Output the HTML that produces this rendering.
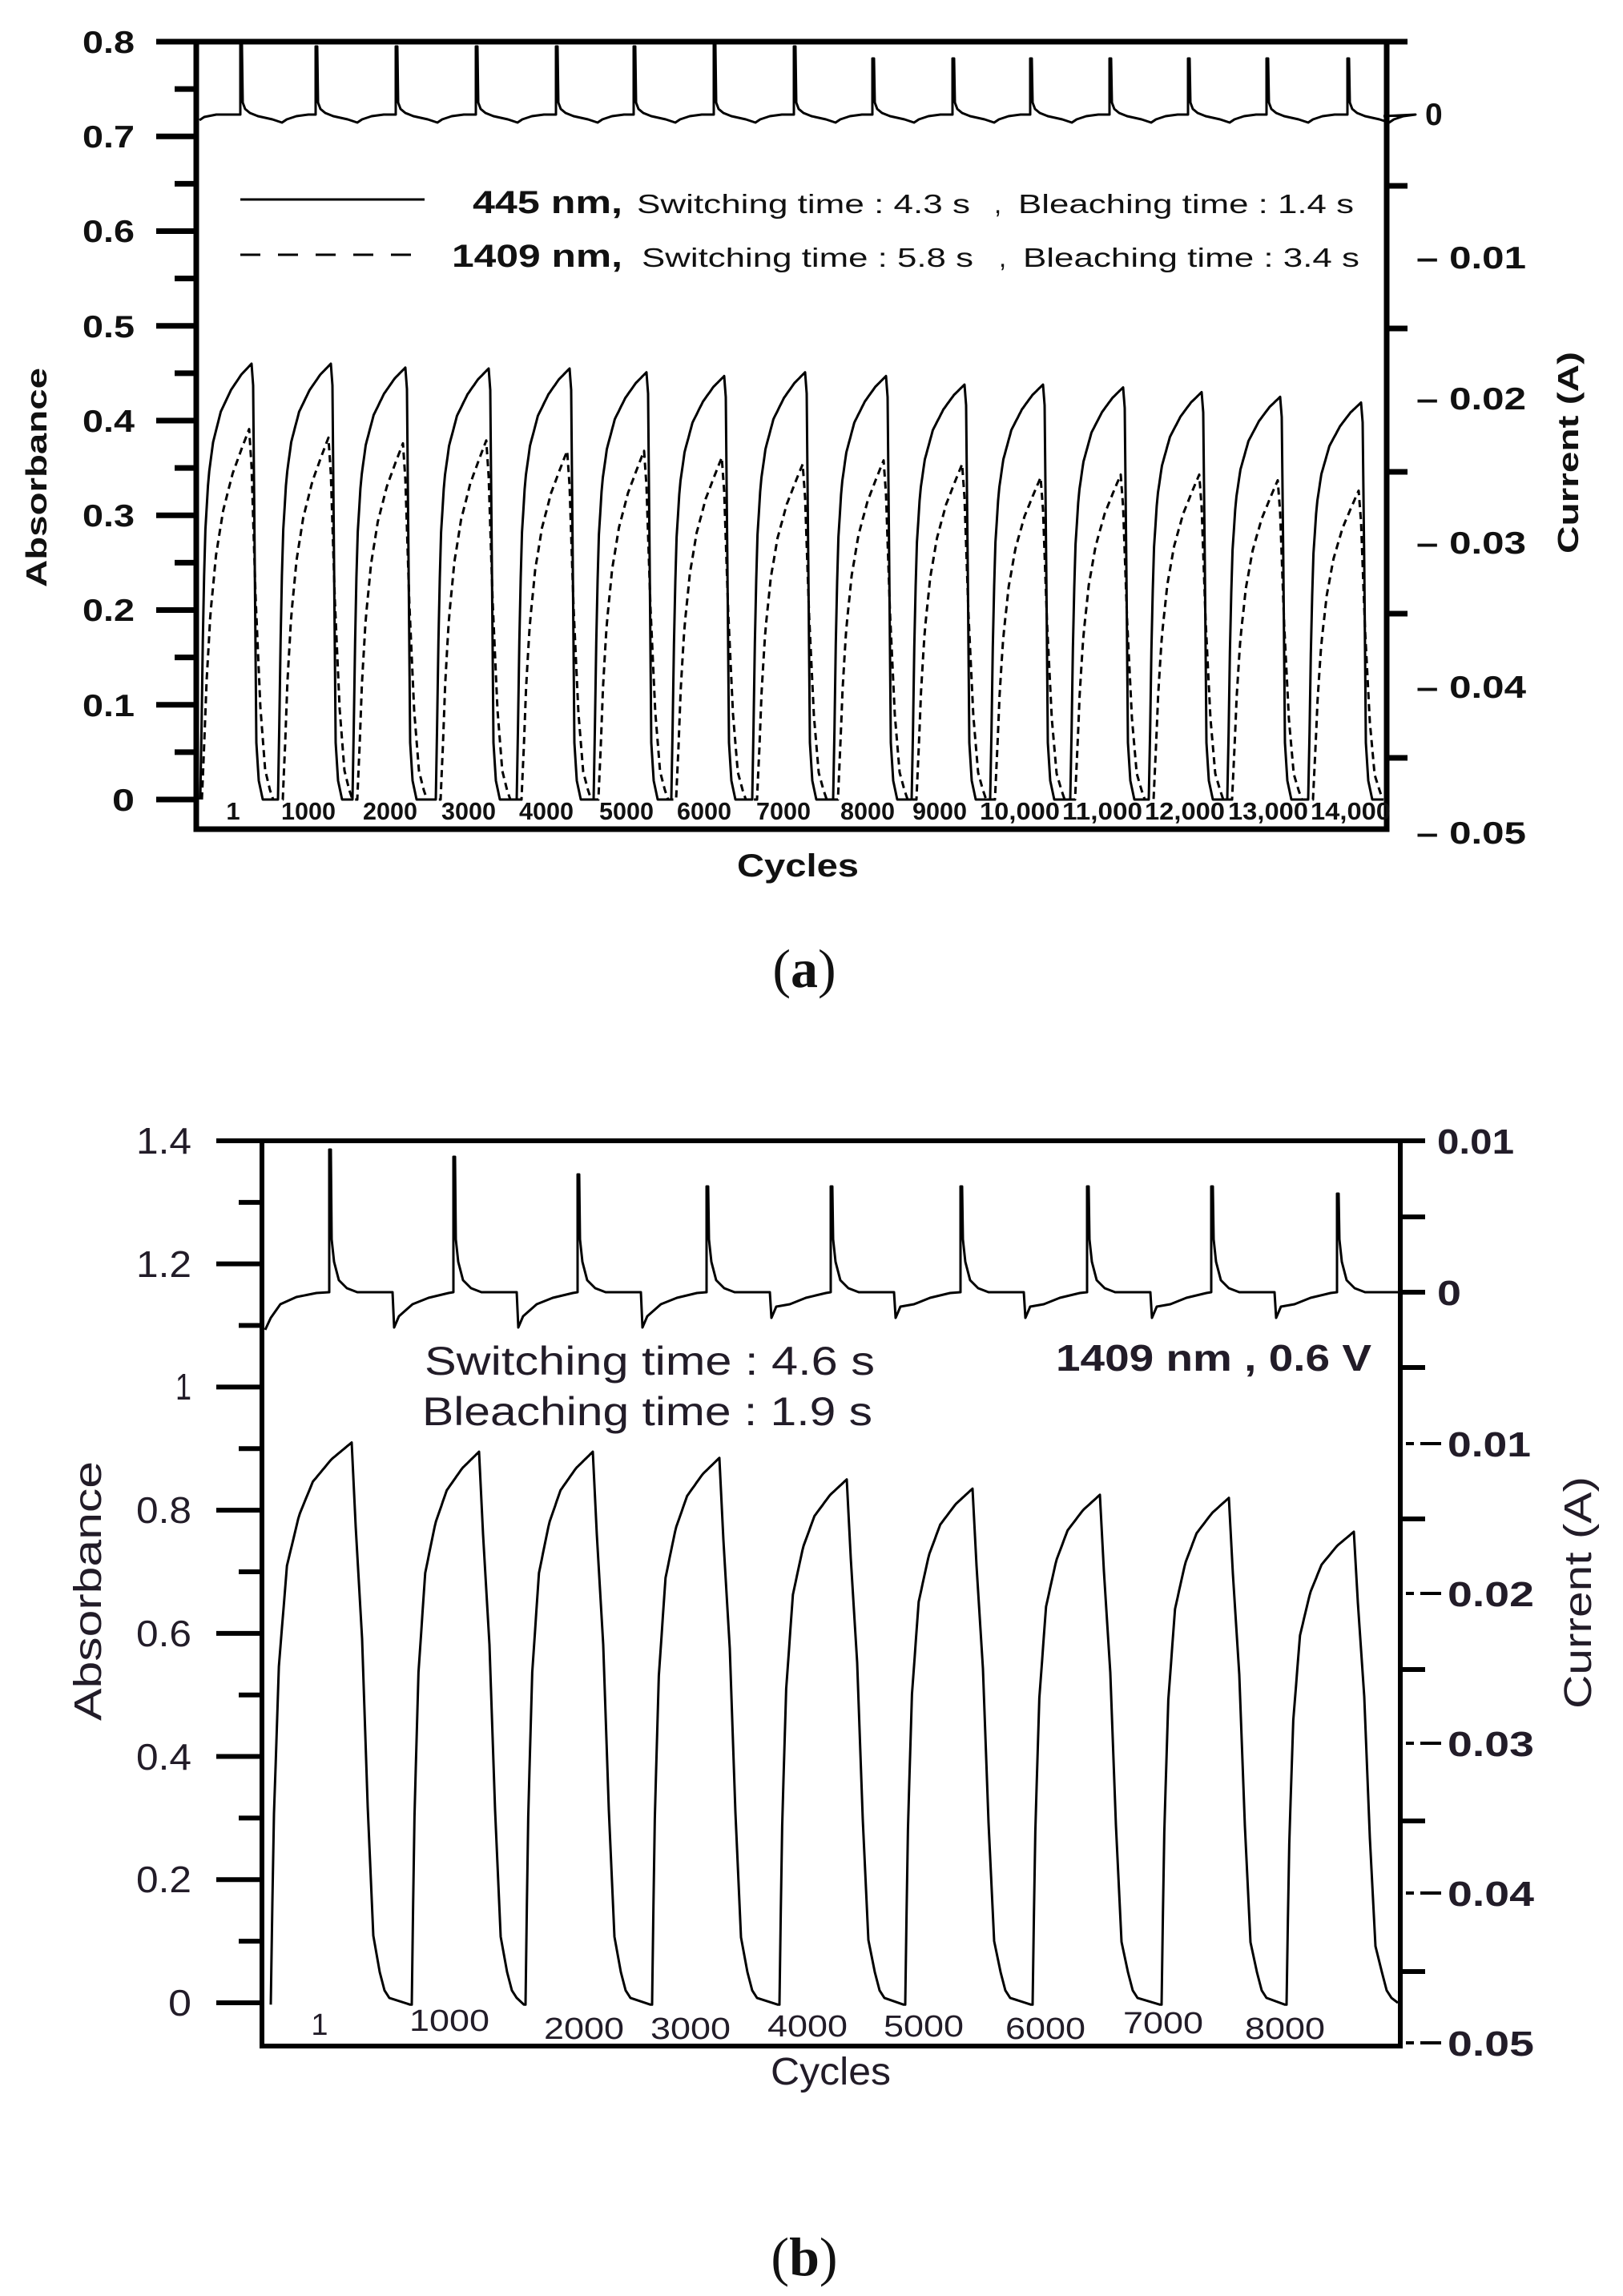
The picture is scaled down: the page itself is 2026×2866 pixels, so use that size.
<!DOCTYPE html>
<html><head><meta charset="utf-8"><style>html,body{margin:0;padding:0;background:#fff}svg{display:block}</style></head>
<body>
<svg id="s" width="2026" height="2866" viewBox="0 0 2026 2866" xmlns="http://www.w3.org/2000/svg" font-family="'Liberation Sans', sans-serif">
<g id="g"></g>
<!-- Plot (a) texts -->
<g font-weight="bold" font-size="39" fill="#111" text-anchor="end">
<text x="168" y="66" textLength="65" lengthAdjust="spacingAndGlyphs">0.8</text>
<text x="168" y="184" textLength="65" lengthAdjust="spacingAndGlyphs">0.7</text>
<text x="168" y="302" textLength="65" lengthAdjust="spacingAndGlyphs">0.6</text>
<text x="168" y="421" textLength="65" lengthAdjust="spacingAndGlyphs">0.5</text>
<text x="168" y="539" textLength="65" lengthAdjust="spacingAndGlyphs">0.4</text>
<text x="168" y="657" textLength="65" lengthAdjust="spacingAndGlyphs">0.3</text>
<text x="168" y="775" textLength="65" lengthAdjust="spacingAndGlyphs">0.2</text>
<text x="168" y="894" textLength="65" lengthAdjust="spacingAndGlyphs">0.1</text>
<text x="168" y="1012" textLength="28" lengthAdjust="spacingAndGlyphs">0</text>
</g>
<g font-weight="bold" font-size="39" fill="#111">
<text x="1779" y="156">0</text>
<text x="1768" y="335" textLength="137" lengthAdjust="spacingAndGlyphs">– 0.01</text>
<text x="1768" y="511" textLength="137" lengthAdjust="spacingAndGlyphs">– 0.02</text>
<text x="1768" y="691" textLength="137" lengthAdjust="spacingAndGlyphs">– 0.03</text>
<text x="1768" y="871" textLength="137" lengthAdjust="spacingAndGlyphs">– 0.04</text>
<text x="1768" y="1053" textLength="137" lengthAdjust="spacingAndGlyphs">– 0.05</text>
</g>
<text font-weight="bold" font-size="36" fill="#111" text-anchor="middle" transform="translate(58,596) rotate(-90)" textLength="274" lengthAdjust="spacingAndGlyphs">Absorbance</text>
<text font-weight="bold" font-size="36" fill="#111" text-anchor="middle" transform="translate(1970,565) rotate(-90)" textLength="252" lengthAdjust="spacingAndGlyphs">Current (A)</text>
<text font-weight="bold" font-size="40" fill="#111" text-anchor="middle" x="996" y="1094" textLength="152" lengthAdjust="spacingAndGlyphs">Cycles</text>
<g font-size="31" fill="#111" font-weight="bold" text-anchor="middle">
<text x="291" y="1023">1</text>
<text x="385" y="1023" textLength="68" lengthAdjust="spacingAndGlyphs">1000</text>
<text x="487" y="1023" textLength="68" lengthAdjust="spacingAndGlyphs">2000</text>
<text x="585" y="1023" textLength="68" lengthAdjust="spacingAndGlyphs">3000</text>
<text x="682" y="1023" textLength="68" lengthAdjust="spacingAndGlyphs">4000</text>
<text x="782" y="1023" textLength="68" lengthAdjust="spacingAndGlyphs">5000</text>
<text x="879" y="1023" textLength="68" lengthAdjust="spacingAndGlyphs">6000</text>
<text x="978" y="1023" textLength="68" lengthAdjust="spacingAndGlyphs">7000</text>
<text x="1083" y="1023" textLength="68" lengthAdjust="spacingAndGlyphs">8000</text>
<text x="1173" y="1023" textLength="68" lengthAdjust="spacingAndGlyphs">9000</text>
<text x="1273" y="1023" textLength="100" lengthAdjust="spacingAndGlyphs">10,000</text>
<text x="1376" y="1023" textLength="100" lengthAdjust="spacingAndGlyphs">11,000</text>
<text x="1479" y="1023" textLength="100" lengthAdjust="spacingAndGlyphs">12,000</text>
<text x="1583" y="1023" textLength="100" lengthAdjust="spacingAndGlyphs">13,000</text>
<text x="1686" y="1023" textLength="100" lengthAdjust="spacingAndGlyphs">14,000</text>
</g>
<g fill="#111">
<text x="590" y="266" font-size="40" font-weight="bold" textLength="187" lengthAdjust="spacingAndGlyphs">445 nm,</text>
<text x="795" y="266" font-size="33" textLength="416" lengthAdjust="spacingAndGlyphs">Switching time : 4.3 s</text>
<text x="1241" y="266" font-size="33">,</text>
<text x="1271" y="266" font-size="33" textLength="419" lengthAdjust="spacingAndGlyphs">Bleaching time : 1.4 s</text>
<text x="564" y="333" font-size="40" font-weight="bold" textLength="213" lengthAdjust="spacingAndGlyphs">1409 nm,</text>
<text x="801" y="333" font-size="33" textLength="414" lengthAdjust="spacingAndGlyphs">Switching time : 5.8 s</text>
<text x="1247" y="333" font-size="33">,</text>
<text x="1277" y="333" font-size="33" textLength="420" lengthAdjust="spacingAndGlyphs">Bleaching time : 3.4 s</text>
</g>
<text x="1004" y="1232" font-family="'Liberation Serif', serif" font-size="68" text-anchor="middle" fill="#111">(<tspan font-weight="bold">a</tspan>)</text>

<!-- Plot (b) texts -->
<g font-size="46" fill="#221c28" text-anchor="end">
<text x="239" y="1440" textLength="69" lengthAdjust="spacingAndGlyphs">1.4</text>
<text x="239" y="1594" textLength="69" lengthAdjust="spacingAndGlyphs">1.2</text>
<text x="239" y="1747" textLength="20" lengthAdjust="spacingAndGlyphs">1</text>
<text x="239" y="1901" textLength="69" lengthAdjust="spacingAndGlyphs">0.8</text>
<text x="239" y="2055" textLength="69" lengthAdjust="spacingAndGlyphs">0.6</text>
<text x="239" y="2209" textLength="69" lengthAdjust="spacingAndGlyphs">0.4</text>
<text x="239" y="2362" textLength="69" lengthAdjust="spacingAndGlyphs">0.2</text>
<text x="239" y="2516" textLength="29" lengthAdjust="spacingAndGlyphs">0</text>
</g>
<g font-size="44" fill="#221c28" font-weight="bold">
<text x="1794" y="1440" textLength="96" lengthAdjust="spacingAndGlyphs">0.01</text>
<text x="1794" y="1629" textLength="30" lengthAdjust="spacingAndGlyphs">0</text>
<text x="1807" y="1818" textLength="104" lengthAdjust="spacingAndGlyphs">0.01</text>
<text x="1807" y="2005" textLength="108" lengthAdjust="spacingAndGlyphs">0.02</text>
<text x="1807" y="2192" textLength="108" lengthAdjust="spacingAndGlyphs">0.03</text>
<text x="1807" y="2379" textLength="108" lengthAdjust="spacingAndGlyphs">0.04</text>
<text x="1807" y="2566" textLength="108" lengthAdjust="spacingAndGlyphs">0.05</text>
</g>
<text font-size="48" fill="#221c28" text-anchor="middle" transform="translate(1986,1988) rotate(-90)" textLength="290" lengthAdjust="spacingAndGlyphs">Current (A)</text>
<text font-size="48" fill="#221c28" text-anchor="middle" transform="translate(126,1986) rotate(-90)" textLength="324" lengthAdjust="spacingAndGlyphs">Absorbance</text>
<text font-size="48" fill="#221c28" text-anchor="middle" x="1037" y="2602" textLength="150" lengthAdjust="spacingAndGlyphs">Cycles</text>
<g font-size="38" fill="#221c28" text-anchor="middle">
<text x="399" y="2540">1</text>
<text x="561" y="2535" textLength="100" lengthAdjust="spacingAndGlyphs">1000</text>
<text x="729" y="2545" textLength="100" lengthAdjust="spacingAndGlyphs">2000</text>
<text x="862" y="2545" textLength="100" lengthAdjust="spacingAndGlyphs">3000</text>
<text x="1008" y="2542" textLength="100" lengthAdjust="spacingAndGlyphs">4000</text>
<text x="1153" y="2542" textLength="100" lengthAdjust="spacingAndGlyphs">5000</text>
<text x="1305" y="2545" textLength="100" lengthAdjust="spacingAndGlyphs">6000</text>
<text x="1452" y="2538" textLength="100" lengthAdjust="spacingAndGlyphs">7000</text>
<text x="1604" y="2545" textLength="100" lengthAdjust="spacingAndGlyphs">8000</text>
</g>
<g fill="#221c28" font-size="50">
<text x="530" y="1716" textLength="562" lengthAdjust="spacingAndGlyphs">Switching time : 4.6 s</text>
<text x="527" y="1779" textLength="562" lengthAdjust="spacingAndGlyphs">Bleaching time : 1.9 s</text>
<text x="1318" y="1711" font-weight="bold" font-size="46" textLength="394" lengthAdjust="spacingAndGlyphs">1409 nm , 0.6 V</text>
</g>
<text x="1004" y="2840" font-family="'Liberation Serif', serif" font-size="68" text-anchor="middle" fill="#111">(<tspan font-weight="bold">b</tspan>)</text>
</svg>
<script>
(function(){
var g=document.getElementById('g'),NS='http://www.w3.org/2000/svg';
function add(tag,attrs){var e=document.createElementNS(NS,tag);for(var k in attrs)e.setAttribute(k,attrs[k]);g.appendChild(e);return e;}
function line(x1,y1,x2,y2,w){add('line',{x1:x1,y1:y1,x2:x2,y2:y2,stroke:'#000','stroke-width':w});}
function path(pts,w,dash){var d='M'+pts.map(function(p){return p[0].toFixed(1)+' '+p[1].toFixed(1)}).join(' L');var a={d:d,fill:'none',stroke:'#000','stroke-width':w,'stroke-linejoin':'round'};if(dash)a['stroke-dasharray']=dash;add('path',a);}
function interp(sh,u){for(var i=1;i<sh.length;i++){if(u<=sh[i][0]){var a=sh[i-1],b=sh[i];return a[1]+(b[1]-a[1])*(u-a[0])/(b[0]-a[0]);}}return 1;}

/* ---------- Plot (a) ---------- */
var L=245,Rr=1731,T=52,B=1035,Y0=998,SC=1182.5;
function ya(v){return Y0-v*SC;}
// ticks left
for(var i=0;i<=16;i++){var y=Y0-i*SC*0.05;line(i%2?218:195,y,L,y,7);}
// ticks right
[52,232,410,589,766,946].forEach(function(y){line(Rr,y,Rr+26,y,7);});
// frame
add('rect',{x:L,y:T,width:Rr-L,height:B-T,fill:'none',stroke:'#000','stroke-width':7});
// solid series
var P=[314,413,506,610,711,807,904,1005,1106,1204,1302,1402,1500,1598,1699];
var H=[0.46,0.46,0.456,0.455,0.455,0.451,0.447,0.451,0.447,0.438,0.438,0.435,0.43,0.425,0.419];
var f=[[0,0],[0.03,0.2],[0.06,0.45],[0.1,0.62],[0.16,0.74],[0.25,0.82],[0.4,0.89],[0.6,0.94],[0.8,0.975],[1,1]];
var pts=[];
for(var k=0;k<P.length;k++){var R=k==0?250:P[k]-66;pts.push([R,ya(0)]);
 for(var j=1;j<=40;j++){var u=j/40;pts.push([R+u*(P[k]-R),ya(H[k]*interp(f,u))]);}
 var p=P[k],h=H[k];pts.push([p+2,ya(h*0.95)],[p+4,ya(0.25)],[p+6,ya(0.06)],[p+9,ya(0.02)],[p+14,ya(0)]);}
pts.push([1727,ya(0)]);path(pts,3);
// dashed series
var Hd=[0.391,0.382,0.376,0.379,0.368,0.368,0.361,0.354,0.358,0.354,0.34,0.343,0.343,0.337,0.326];
var gsh=[[0,0],[0.05,0.15],[0.1,0.32],[0.18,0.5],[0.3,0.66],[0.45,0.78],[0.65,0.88],[0.85,0.95],[1,1]];
pts=[];
for(k=0;k<P.length;k++){var pd=P[k]-3,R2=k==0?252:P[k]-60;pts.push([R2,ya(0)]);
 for(j=1;j<=40;j++){u=j/40;pts.push([R2+u*(pd-R2),ya(Hd[k]*interp(gsh,u))]);}
 h=Hd[k];pts.push([pd+3,ya(0.9*h)],[pd+8,ya(0.55*h)],[pd+14,ya(0.25*h)],[pd+20,ya(0.08*h)],[pd+26,ya(0.01)],[pd+30,ya(0)]);}
pts.push([1727,ya(0.0)]);path(pts,3,'9 6');
// current a
var S=[300,394,494,594,694,791,891,991,1089,1189,1286,1385,1483,1581,1682];
var TP=[56,58,58,58,58,58,54,58,73,73,73,73,73,73,73];
pts=[[249,150],[255,146],[270,143]];
for(k=0;k<S.length;k++){var s=S[k];pts.push([s,143],[s,TP[k]],[s+2,TP[k]],[s+3,128],[s+6,136],[s+12,141],[s+22,145],[s+40,149],[s+52,153],[s+58,149],[s+70,145],[s+85,143]);}
pts.push([1727,145]);path(pts,3);
// legend lines
line(300,249,530,249,3);line(300,318,517,318,3);
g.lastChild.setAttribute('stroke-dasharray','25 22');

/* ---------- Plot (b) ---------- */
var Lb=327,Rb=1748,Tb=1424,Bb=2554,Y0b=2500,SCb=768.6;
function yb(v){return Y0b-v*SCb;}
for(i=0;i<=14;i++){y=Y0b-i*SCb*0.1;line(i%2?298:270,y,Lb,y,6);}
[1424,1613,1519,1707,1896,2084,2273,2461].forEach(function(y){line(Rb,y,Rb+31,y,6);});
[1802,1989,2176,2363,2550].forEach(function(y){line(1755,y,1765,y,4);line(1773,y,1799,y,4);});
add('rect',{x:Lb,y:Tb,width:Rb-Lb,height:Bb-Tb,fill:'none',stroke:'#000','stroke-width':6});
var Pb=[439,598,740,898,1057,1214,1373,1534,1690];
var Hb=[0.91,0.895,0.895,0.885,0.85,0.835,0.825,0.82,0.765];
var fb=[[0,0],[0.036,0.32],[0.1,0.6],[0.2,0.78],[0.35,0.87],[0.52,0.93],[0.75,0.97],[1,1]];
pts=[];
for(k=0;k<Pb.length;k++){R=k==0?338:Pb[k]-84;pts.push([R,yb(-0.003)]);
 for(j=1;j<=50;j++){u=j/50;pts.push([R+u*(Pb[k]-R),yb(Hb[k]*interp(fb,u))]);}
 p=Pb[k];h=Hb[k];pts.push([p+5,yb(0.85*h)],[p+13,yb(0.65*h)],[p+20,yb(0.35*h)],[p+27,yb(0.12*h)],[p+35,yb(0.05)],[p+41,yb(0.02)],[p+47,yb(0.008)]);
 if(k<Pb.length-1)pts.push([Pb[k+1]-86,yb(-0.003)]);}
pts.push([1745,yb(0.0)]);path(pts,3);
// current b
var Sb=[411,566,721,882,1037,1199,1357,1512,1669];
var Tb2=[1435,1444,1466,1481,1481,1481,1481,1481,1490];
pts=[[331,1660],[338,1645],[350,1628],[370,1619],[395,1614]];
for(k=0;k<Sb.length;k++){s=Sb[k];var dd=k<3?1657:1645;
 pts.push([s,1613],[s,Tb2[k]],[s+2,Tb2[k]],[s+3,1547],[s+6,1575],[s+12,1598],[s+22,1608],[s+35,1613]);
 var D=s+79;if(D<1740){pts.push([D,1613],[D+2,dd],[D+8,dd-14],[D+25,1628],[D+45,1620],[D+70,1614]);}}
pts.push([1745,1613]);path(pts,3);
})();
</script>
</body></html>
